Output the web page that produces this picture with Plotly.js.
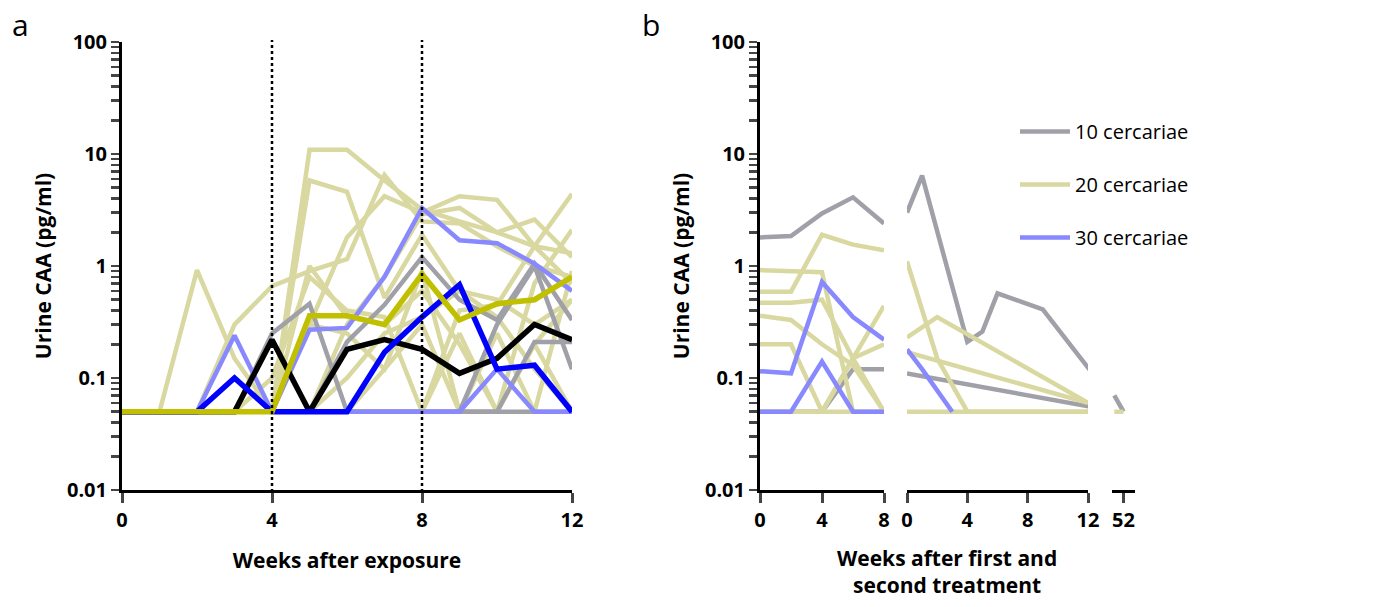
<!DOCTYPE html>
<html><head><meta charset="utf-8">
<script src="https://cdn.plot.ly/plotly-3.0.1.min.js"></script>
<style>body{margin:0;background:#fff}#plot{width:1385px;height:607px}</style>
</head><body><div id="plot"></div>
<script>
// panel a: weeks 0..12
const weeksA = [0,1,2,3,4,5,6,7,8,9,10,11,12];
const grayA = [
  [0.05,0.05,0.05,0.05,0.25,0.46,0.05,0.05,0.05,0.05,0.05,0.05,0.05],
  [0.05,0.05,0.05,0.05,0.05,0.05,0.21,0.45,1.2,0.5,0.33,1.05,0.33],
  [0.05,0.05,0.05,0.05,0.05,0.05,0.05,0.05,0.05,0.05,0.05,0.21,0.21],
  [0.05,0.05,0.05,0.05,0.05,0.05,0.05,0.05,0.05,0.05,0.3,1.0,0.12]
];
const oliveA = [
  [0.05,0.05,0.92,0.15,0.05,0.05,0.05,0.12,0.3,0.05,0.05,0.2,0.5],
  [0.05,0.05,0.05,0.05,0.05,10.9,10.9,5.8,3.2,2.5,2.0,1.5,0.7],
  [0.05,0.05,0.05,0.05,0.05,5.8,4.6,0.52,1.9,0.6,0.35,0.12,0.05],
  [0.05,0.05,0.05,0.3,0.66,0.9,1.15,6.5,2.5,2.4,1.5,1.0,0.8],
  [0.05,0.05,0.05,0.05,0.05,0.3,1.8,4.2,3.0,4.2,3.9,1.5,1.3],
  [0.05,0.05,0.05,0.05,0.05,0.05,0.3,0.8,2.9,3.3,2.0,2.6,1.2],
  [0.05,0.05,0.05,0.05,0.1,0.8,0.4,0.35,0.05,0.4,0.45,1.5,4.4],
  [0.05,0.05,0.05,0.05,0.05,1.0,0.35,0.3,0.6,0.2,0.05,0.7,2.1],
  [0.05,0.05,0.05,0.05,0.05,0.3,0.25,0.12,0.9,0.05,0.25,0.05,0.9],
  [0.05,0.05,0.05,0.05,0.05,0.05,0.1,0.25,0.35,0.6,0.5,0.3,0.5],
  [0.05,0.05,0.05,0.05,0.05,0.05,0.05,0.05,0.05,0.25,0.05,0.2,0.05]
];
const lightBlueA = [
  [0.05,0.05,0.05,0.24,0.05,0.27,0.28,0.8,3.3,1.7,1.6,1.05,0.6],
  [0.05,0.05,0.05,0.05,0.05,0.05,0.05,0.05,0.05,0.05,0.12,0.05,0.05]
];
const blackA = [0.05,0.05,0.05,0.05,0.22,0.05,0.18,0.22,0.18,0.11,0.15,0.3,0.22];
const blueA  = [0.05,0.05,0.05,0.1,0.05,0.05,0.05,0.17,0.35,0.68,0.12,0.13,0.05];
const yellowA= [0.05,0.05,0.05,0.05,0.05,0.36,0.36,0.3,0.85,0.33,0.46,0.5,0.8];

// panel b: after first treatment (weeks 0..8), after second (weeks 0..12), week 52
const weeksB1 = [0,2,4,6,8];
const grayB1 = [[1.8,1.85,2.95,4.1,2.4],[0.05,0.05,0.05,0.12,0.12]];
const oliveB1 = [
  [0.59,0.59,1.9,1.55,1.38],
  [0.92,0.9,0.88,0.05,0.05],
  [0.47,0.47,0.5,0.15,0.05],
  [0.36,0.33,0.2,0.13,0.05],
  [0.2,0.2,0.05,0.15,0.2],
  [0.05,0.05,0.05,0.15,0.44],
  [0.05,0.05,0.05,0.05,0.05]
];
const lightBlueB1 = [[0.115,0.11,0.72,0.35,0.22],[0.05,0.05,0.14,0.05,0.05]];
const grayB2x = [[0,1,4,5,6,9,12.3],[0,12.3]];
const grayB2 = [[3.0,6.4,0.21,0.26,0.57,0.41,0.11],[0.11,0.055]];
const oliveB2x = [[0,2,4,12],[0,2,12],[0,12],[0,12]];
const oliveB2 = [[1.1,0.15,0.05,0.05],[0.23,0.35,0.06],[0.17,0.06],[0.05,0.05]];
const lightBlueB2x = [[0,1,3]];
const lightBlueB2 = [[0.18,0.12,0.05]];
const weeksB3 = [51.2,52];
const grayB3 = [0.07,0.05];
const oliveB3 = [0.05,0.05];

const cGray='#a0a0a8', cOlive='#d8d8a0', cLB='#8888ff';
const traces=[];
function add(x,y,color,w,xa,name,show){
  traces.push({x:x,y:y,type:'scatter',mode:'lines',xaxis:xa,yaxis:xa==='x'?'y':'y2',
    line:{color:color,width:w},name:name||'',legendgroup:name||'',showlegend:!!show,hoverinfo:'skip'});
}
oliveA.forEach(s=>add(weeksA,s,cOlive,4.5,'x'));
grayA.forEach(s=>add(weeksA,s,cGray,4.5,'x'));
lightBlueA.forEach(s=>add(weeksA,s,cLB,4.5,'x'));
add(weeksA,blackA,'#000000',5.5,'x');
add(weeksA,blueA,'#0000ff',5.5,'x');
add(weeksA,yellowA,'#c0c000',5.5,'x');

grayB1.forEach((s,i)=>add(weeksB1,s,cGray,4.5,'x2','10 cercariae',i===0));
oliveB1.forEach((s,i)=>add(weeksB1,s,cOlive,4.5,'x2','20 cercariae',i===0));
lightBlueB1.forEach((s,i)=>add(weeksB1,s,cLB,4.5,'x2','30 cercariae',i===0));
grayB2.forEach((s,i)=>add(grayB2x[i],s,cGray,4.5,'x3'));
oliveB2.forEach((s,i)=>add(oliveB2x[i],s,cOlive,4.5,'x3'));
lightBlueB2.forEach((s,i)=>add(lightBlueB2x[i],s,cLB,4.5,'x3'));
add(weeksB3,grayB3,cGray,4.5,'x4');
add(weeksB3,oliveB3,cOlive,4.5,'x4');

const W=1385,H=607;
const fx=p=>p/W, fy=p=>1-p/H;
const font={family:'Open Sans, DejaVu Sans, sans-serif',size:20,color:'#000',weight:700};
const plain={family:'Open Sans, sans-serif',size:20,color:'#000',weight:400};
const majorVals=[0.01,0.1,1,10,100];
const majorText=['0.01','0.1','1','10','100'];
const tv=[], tt=[];
majorVals.forEach((d,i)=>{tv.push(d);tt.push(majorText[i]);
  if(i<4)for(let k=2;k<=9;k++){tv.push(d*k);tt.push('');}});
const yax={type:'log',range:[-2,2],showgrid:false,zeroline:false,showline:true,linewidth:3,linecolor:'#000',
  ticks:'outside',ticklen:8,tickwidth:2.5,tickvals:tv,ticktext:tt,
  tickfont:font,title:{text:'Urine CAA (pg/ml)',font:{...font,size:21},standoff:10},domain:[fy(490),fy(42)]};
const xax=(dom,rng,vals,anchor)=>({domain:dom,range:rng,anchor:anchor,showgrid:false,zeroline:false,showline:true,
  linewidth:3,linecolor:'#000',ticks:'outside',ticklen:10,tickwidth:3,tickvals:vals,tickfont:font});

const layout={
  width:W,height:H,margin:{l:0,r:0,t:0,b:0},paper_bgcolor:'#fff',plot_bgcolor:'rgba(0,0,0,0)',
  font:font,
  xaxis:{...xax([fx(122),fx(572)],[0,12],[0,4,8,12],'y'),
    title:{text:'Weeks after exposure',font:{...font,size:21},standoff:22}},
  yaxis:{...yax,anchor:'x'},
  xaxis2:xax([fx(760),fx(884)],[0,8],[0,4,8],'y2'),
  xaxis3:xax([fx(907),fx(1088)],[0,12],[0,4,8,12],'y2'),
  xaxis4:xax([fx(1112),fx(1135)],[51,53],[52],'y2'),
  yaxis2:{...yax,anchor:'x2'},
  showlegend:true,
  legend:{x:fx(1015),y:fy(112),xanchor:'left',yanchor:'top',font:plain,
    tracegroupgap:24,traceorder:'grouped',itemwidth:50,bgcolor:'rgba(0,0,0,0)'},
  shapes:[4,8].map(v=>({type:'line',xref:'x',yref:'paper',x0:v,x1:v,y0:fy(492),y1:fy(40),
    line:{color:'#000',width:2.5,dash:'dot'}})),
  annotations:[
    {text:'a',xref:'paper',yref:'paper',x:fx(10),y:fy(2),xanchor:'left',yanchor:'top',showarrow:false,font:{...plain,size:30}},
    {text:'b',xref:'paper',yref:'paper',x:fx(640),y:fy(2),xanchor:'left',yanchor:'top',showarrow:false,font:{...plain,size:30}},
    {text:'Weeks after first and<br>second treatment',xref:'paper',yref:'paper',x:fx(947),y:fy(542),xanchor:'center',yanchor:'top',
      showarrow:false,font:{...font,size:21}}
  ]
};
Plotly.newPlot('plot',traces,layout,{displayModeBar:false,staticPlot:true});
</script></body></html>
